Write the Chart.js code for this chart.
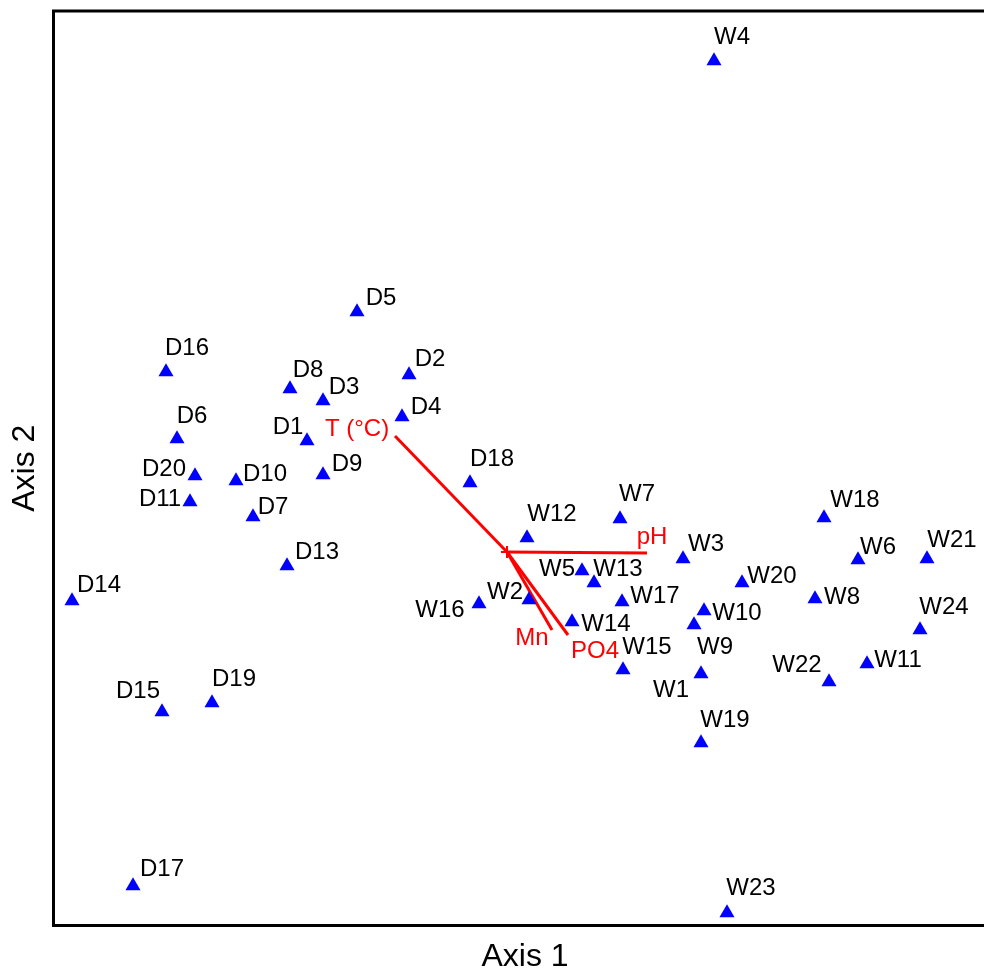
<!DOCTYPE html>
<html>
<head>
<meta charset="utf-8">
<script src="https://cdn.jsdelivr.net/npm/chart.js@4"></script>
<style>
  body { margin: 0; background: #fff; overflow: hidden; }
  #wrap { width: 984px; height: 972px; }
</style>
</head>
<body>
<div id="wrap"><canvas id="myChart" width="984" height="972"></canvas></div>
<script>
// site scores
const siteNames = ['D1','D2','D3','D4','D5','D6','D7','D8','D9','D10','D11','D13','D14','D15','D16','D17','D18','D19','D20',
  'W1','W2','W3','W4','W5','W6','W7','W8','W9','W10','W11','W12','W13','W14','W15','W16','W17','W18','W19','W20','W21','W22','W23','W24'];
const axis1 = [-2.00,-0.98,-1.84,-1.05,-1.50,-3.30,-2.54,-2.17,-1.84,-2.71,-3.17,-2.20,-4.35,-3.45,-3.41,-3.74,-0.37,-2.95,-3.12,
  1.87,0.22,1.76,2.07,0.75,3.51,1.13,3.08,1.94,1.97,3.60,0.20,0.87,0.65,1.16,-0.28,1.15,3.17,1.94,2.35,4.20,3.22,2.20,4.13];
const axis2 = [1.11,1.77,1.51,1.35,2.40,1.13,0.35,1.63,0.77,0.71,0.50,-0.14,-0.49,-1.60,1.80,-3.34,0.69,-1.51,0.76,
  -0.73,-0.48,-0.07,4.91,-0.19,-0.08,0.33,-0.47,-1.22,-0.59,-1.12,0.14,-0.31,-0.70,-1.18,-0.52,-0.50,0.34,-1.91,-0.31,-0.07,-1.30,-3.61,-0.78];

// environmental vectors
const vectorNames = ['T (°C)', 'pH', 'Mn', 'PO4'];
const vectorAxis1 = [-1.12, 1.40, 0.45, 0.61];
const vectorAxis2 = [1.16, -0.01, -0.78, -0.83];

// label placement (pixel offsets from the marker)
const siteLabelOffsets = [[-19,-14],[21,-16],[21,-14],[24,-10],[24,-14],[15,-23],[20,-10],[18,-19],[24,-11],[29,-7],[-30,-3],[30,-14],[27,-16],[-24,-21],[21,-24],[29,-17],[22,-24],[22,-24],[-31,-7],
  [-23,65],[-24,-8],[23,-15],[18,-24],[-25,-2],[20,-13],[17,-25],[27,-2],[14,-27],[33,2],[31,-4],[25,-24],[24,-14],[34,2],[24,-23],[-39,6],[33,-6],[31,-18],[24,-23],[30,-7],[25,-19],[-32,-17],[24,-25],[24,-23]];
const vectorLabelOffsets = [[-38,-7],[5,-16],[-20,8],[27,16]];

const FONT = "'Liberation Sans', Arial, sans-serif";

const datasets = [{
  label: 'sites',
  data: siteNames.map((n, i) => ({ x: axis1[i], y: axis2[i] })),
  pointStyle: 'triangle',
  pointRadius: 8.7,
  backgroundColor: '#0000ff',
  borderColor: '#0000ff',
  borderWidth: 0,
  showLine: false
}];

vectorNames.forEach((n, i) => {
  datasets.push({
    label: n,
    data: [{ x: 0, y: 0 }, { x: vectorAxis1[i], y: vectorAxis2[i] }],
    showLine: true,
    borderColor: '#ff0000',
    borderWidth: 3,
    pointRadius: [6, 0],
    pointStyle: 'cross',
    pointBorderColor: '#ff0000',
    pointBorderWidth: 2
  });
});

const labelPlugin = {
  id: 'labels',
  afterDatasetsDraw(chart) {
    const ctx = chart.ctx;
    const area = chart.chartArea;
    ctx.save();
    // frame (right edge is outside the picture)
    ctx.strokeStyle = '#000';
    ctx.lineWidth = 3;
    ctx.beginPath();
    ctx.moveTo(area.right + 5, area.top);
    ctx.lineTo(area.left, area.top);
    ctx.lineTo(area.left, area.bottom);
    ctx.lineTo(area.right + 5, area.bottom);
    ctx.stroke();

    ctx.textAlign = 'center';
    ctx.textBaseline = 'middle';
    ctx.font = '24px ' + FONT;
    ctx.fillStyle = '#000';
    const pts = chart.getDatasetMeta(0).data;
    pts.forEach((p, i) => {
      const o = siteLabelOffsets[i];
      ctx.fillText(siteNames[i], p.x + o[0], p.y + o[1]);
    });

    ctx.fillStyle = '#ff0000';
    vectorNames.forEach((n, i) => {
      const end = chart.getDatasetMeta(i + 1).data[1];
      const o = vectorLabelOffsets[i];
      ctx.fillText(n, end.x + o[0], end.y + o[1]);
    });

    ctx.fillStyle = '#000';
    ctx.font = '32px ' + FONT;
    ctx.fillText('Axis 1', 525, 957);
    ctx.translate(25, (area.top + area.bottom) / 2);
    ctx.rotate(-Math.PI / 2);
    ctx.fillText('Axis 2', 0, 0);
    ctx.restore();
  }
};

new Chart(document.getElementById('myChart'), {
  type: 'scatter',
  data: { datasets: datasets },
  options: {
    responsive: false,
    animation: false,
    events: [],
    layout: { autoPadding: false, padding: { left: 53.5, top: 11, right: 0, bottom: 46.5 } },
    scales: {
      x: { type: 'linear', display: false, min: -4.535, max: 4.77 },
      y: { type: 'linear', display: false, min: -3.735, max: 5.41 }
    },
    plugins: {
      legend: { display: false },
      tooltip: { enabled: false }
    }
  },
  plugins: [labelPlugin]
});
</script>
</body>
</html>
